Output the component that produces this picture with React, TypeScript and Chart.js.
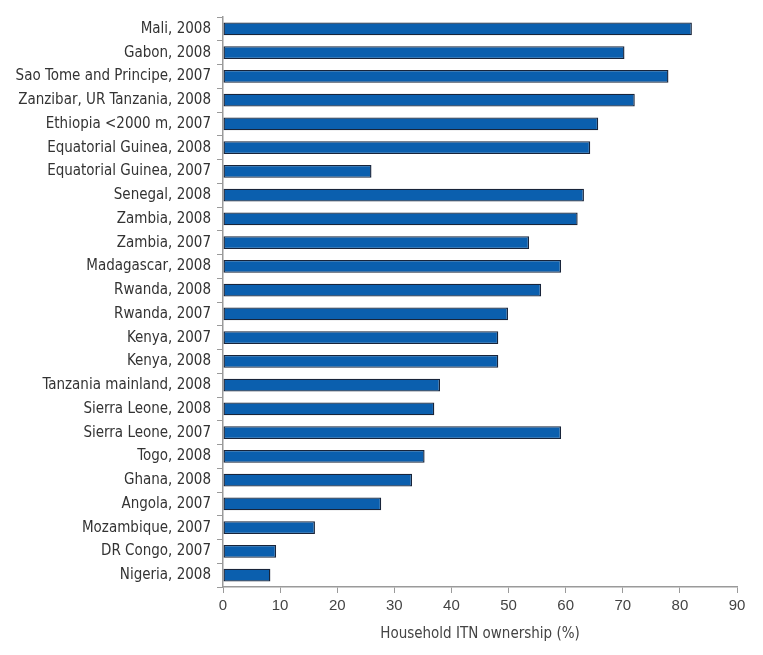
import React, { useEffect, useRef } from "react";
import { Chart, registerables } from "chart.js";

Chart.register(...registerables);

const categories = [
  "Mali, 2008",
  "Gabon, 2008",
  "Sao Tome and Principe, 2007",
  "Zanzibar, UR Tanzania, 2008",
  "Ethiopia <2000 m, 2007",
  "Equatorial Guinea, 2008",
  "Equatorial Guinea, 2007",
  "Senegal, 2008",
  "Zambia, 2008",
  "Zambia, 2007",
  "Madagascar, 2008",
  "Rwanda, 2008",
  "Rwanda, 2007",
  "Kenya, 2007",
  "Kenya, 2008",
  "Tanzania mainland, 2008",
  "Sierra Leone, 2008",
  "Sierra Leone, 2007",
  "Togo, 2008",
  "Ghana, 2008",
  "Angola, 2007",
  "Mozambique, 2007",
  "DR Congo, 2007",
  "Nigeria, 2008",
];

const ownership = [
  82.1, 70.3, 78.0, 72.1, 65.7, 64.3, 26.0, 63.2, 62.1, 53.6, 59.2, 55.7,
  49.9, 48.2, 48.2, 38.0, 37.0, 59.2, 35.3, 33.1, 27.7, 16.1, 9.3, 8.3,
];

const xTicks = [0, 10, 20, 30, 40, 50, 60, 70, 80, 90];
const xTitle = "Household ITN ownership (%)";

const condensed = "'Liberation Sans Narrow', 'DejaVu Sans Condensed', 'Roboto Condensed', sans-serif";

export default function App() {
  const ref = useRef<HTMLCanvasElement | null>(null);

  useEffect(() => {
    document.body.style.margin = "0";
    const canvas = ref.current;
    if (!canvas) return;
    const chart = new Chart(canvas, {
      type: "bar",
      data: {
        labels: categories,
        datasets: [
          {
            data: ownership,
            backgroundColor: "#0b5fae",
            borderColor: "#18243a",
            borderWidth: 1.4,
            borderSkipped: false,
            barPercentage: 0.54,
            categoryPercentage: 1.0,
          },
        ],
      },
      options: {
        indexAxis: "y",
        animation: false,
        responsive: false,
        maintainAspectRatio: false,
        layout: { padding: { left: 0, right: 26, top: 17, bottom: 12 } },
        plugins: {
          legend: { display: false },
          tooltip: { enabled: false },
        },
        scales: {
          x: {
            type: "linear",
            min: 0,
            max: 90,
            afterBuildTicks: (scale: any) => {
              scale.ticks = xTicks.map((v) => ({ value: v }));
            },
            afterFit: (scale: any) => {
              scale.height = 56;
            },
            grid: {
              drawOnChartArea: false,
              drawTicks: true,
              tickLength: 6,
              color: "#9a9a9a",
            },
            border: { display: true, color: "#9a9a9a", width: 1.5 },
            ticks: {
              color: "#444",
              font: { family: "'Liberation Sans', Arial, sans-serif", size: 15 },
              padding: 4,
            },
            title: {
              display: true,
              text: xTitle,
              color: "#444",
              font: { family: condensed, size: 15 },
              padding: { top: 4, bottom: 0 },
            },
          },
          y: {
            afterFit: (scale: any) => {
              scale.width = 223;
            },
            grid: {
              offset: true,
              drawOnChartArea: false,
              drawTicks: true,
              tickLength: 6,
              color: "#9a9a9a",
            },
            border: { display: true, color: "#9a9a9a", width: 1.5 },
            ticks: {
              color: "#333",
              font: { family: condensed, size: 15 },
              padding: 6,
              autoSkip: false,
            },
          },
        },
      },
    });
    return () => chart.destroy();
  }, []);

  return (
    <div style={{ width: 763, height: 655, background: "#fff" }}>
      <canvas ref={ref} width={763} height={655} style={{ width: 763, height: 655, display: "block" }} />
    </div>
  );
}
